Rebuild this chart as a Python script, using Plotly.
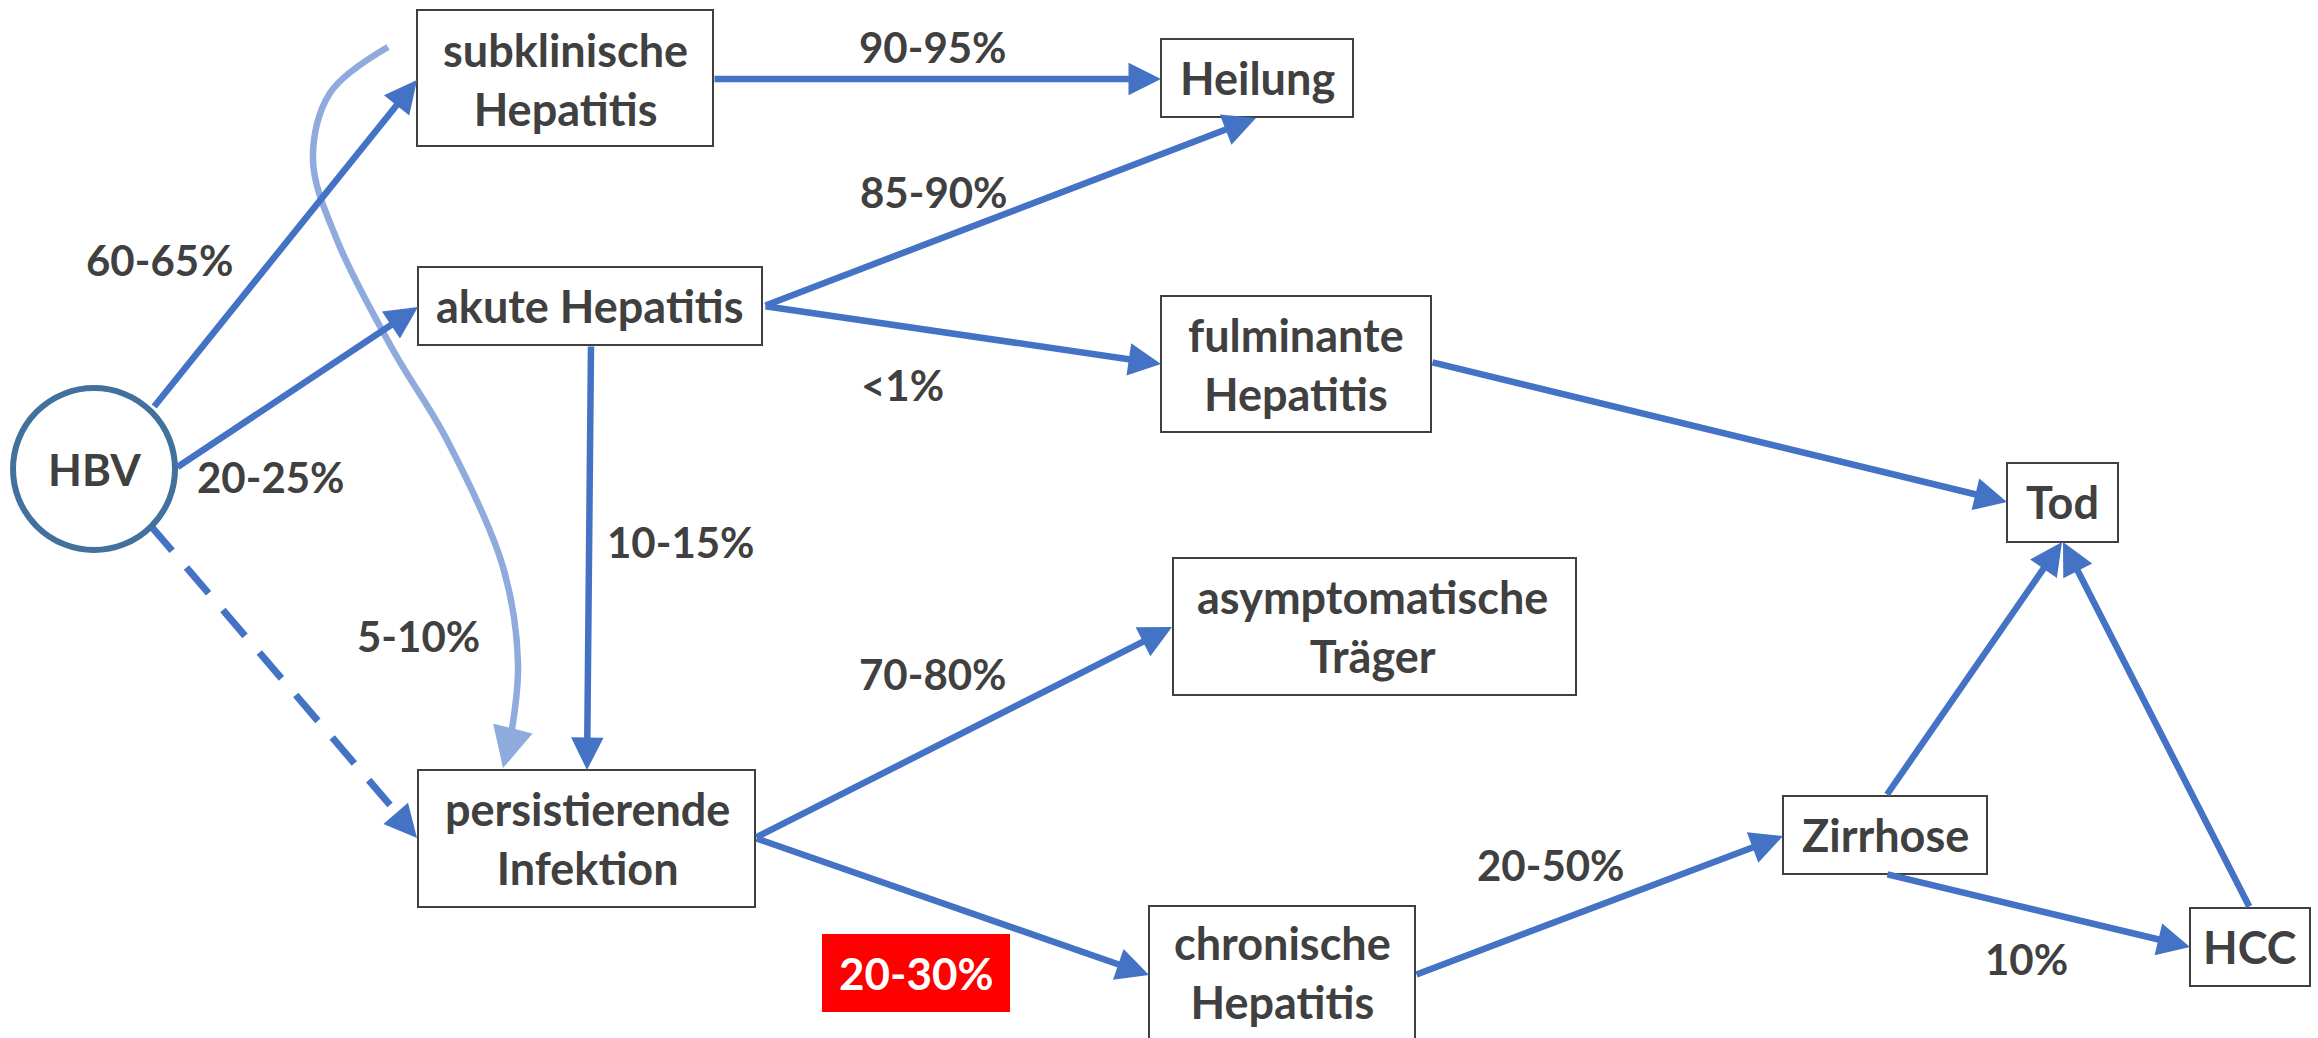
import plotly.graph_objects as go

W, H = 2318, 1038
FONT = "Lato, Carlito, Calibri, sans-serif"
TXT = "#404040"
BLUE = "#4472C4"
LIGHT = "#8FAADC"
CIRC = "#41719C"

# ---- node content ----
node_labels = ["subklinische<br>Hepatitis", "akute Hepatitis", "persistierende<br>Infektion",
               "Heilung", "fulminante<br>Hepatitis", "asymptomatische<br>Träger",
               "chronische<br>Hepatitis", "Tod", "Zirrhose", "HCC"]
# ---- node geometry (pixels) ----
box_x0 = [417, 418, 418, 1161, 1161, 1173, 1149, 2007, 1783, 2190]
box_x1 = [713, 762, 755, 1353, 1431, 1576, 1415, 2118, 1987, 2310]
box_y0 = [10, 267, 770, 39, 296, 558, 906, 463, 796, 908]
box_y1 = [146, 345, 907, 117, 432, 695, 1060, 542, 874, 986]
text_x = [565, 590, 587, 1257, 1296, 1372, 1282, 2062, 1885, 2250]
text_y = [79, 306, 838, 78, 364, 626, 972, 502, 835, 947]

hbv_label = "HBV"
hbv_cx, hbv_cy, hbv_r = 94, 469, 81

# ---- edges ----
edge_tail_x = [153, 176, 713, 764, 764, 1431, 591, 755, 755, 1415, 1886, 2250, 1886]
edge_tail_y = [408, 468, 79, 306, 306, 362, 345, 838, 838, 975, 796, 908, 874]
edge_head_x = [417, 418, 1161, 1256, 1161, 2007, 587, 1172, 1149, 1783, 2062, 2063, 2190]
edge_head_y = [80, 307, 79, 118, 364, 502, 770, 627, 975, 836, 542, 542, 947]

dash_x = [150, 390]
dash_y = [525, 805]
dash_head = (417, 838)

curve_x = [388, 330, 313, 337, 393, 447, 503, 518, 511]
curve_y = [47, 93, 160, 240, 350, 440, 567, 663, 735]
curve_head = (503, 768)

# ---- edge labels ----
edge_labels = ["60-65%", "20-25%", "5-10%", "90-95%", "85-90%", "<1%", "10-15%",
               "70-80%", "20-50%", "10%"]
label_x = [160, 271, 418, 933, 934, 902, 681, 933, 1551, 2026]
label_y = [260, 477, 636, 47, 192, 385, 542, 674, 865, 959]

red_label = "20-30%"
red_box = (822, 1010, 934, 1012)

fig = go.Figure()

# curved light-blue path
fig.add_trace(go.Scatter(x=curve_x, y=curve_y, mode="lines",
                         line=dict(color=LIGHT, width=6.5, shape="spline", smoothing=1.0),
                         hoverinfo="skip", showlegend=False))
# dashed path
fig.add_trace(go.Scatter(x=dash_x, y=dash_y, mode="lines",
                         line=dict(color=BLUE, width=7, dash="34px,22px"),
                         hoverinfo="skip", showlegend=False))

shapes = []
for x0, x1, y0, y1 in zip(box_x0, box_x1, box_y0, box_y1):
    shapes.append(dict(type="rect", xref="x", yref="y", x0=x0, x1=x1, y0=y0, y1=y1,
                       line=dict(color=TXT, width=2), fillcolor="white", layer="above"))
shapes.append(dict(type="circle", xref="x", yref="y",
                   x0=hbv_cx - hbv_r, x1=hbv_cx + hbv_r, y0=hbv_cy - hbv_r, y1=hbv_cy + hbv_r,
                   line=dict(color=CIRC, width=6), fillcolor="white", layer="above"))
shapes.append(dict(type="rect", xref="x", yref="y", x0=red_box[0], x1=red_box[1],
                   y0=red_box[2], y1=red_box[3], line=dict(width=0), fillcolor="#FF0000",
                   layer="above"))

ann = []
for tx, ty, hx, hy in zip(edge_tail_x, edge_tail_y, edge_head_x, edge_head_y):
    ann.append(dict(x=hx, y=hy, ax=tx, ay=ty, xref="x", yref="y", axref="x", ayref="y",
                    text="", showarrow=True, arrowhead=2, arrowsize=1, arrowwidth=6.5,
                    arrowcolor=BLUE, standoff=0))
# dashed arrow head
ann.append(dict(x=dash_head[0], y=dash_head[1], ax=dash_head[0] - 13, ay=dash_head[1] - 15,
                xref="x", yref="y", axref="x", ayref="y", text="", showarrow=True,
                arrowhead=2, arrowsize=1, arrowwidth=6.5, arrowcolor=BLUE, standoff=0))
# curve arrow head
ann.append(dict(x=curve_head[0], y=curve_head[1], ax=curve_head[0] + 5, ay=curve_head[1] - 20,
                xref="x", yref="y", axref="x", ayref="y", text="", showarrow=True,
                arrowhead=2, arrowsize=1.25, arrowwidth=6.5, arrowcolor=LIGHT, standoff=0))

node_font = dict(family=FONT, size=45, color=TXT)
label_font = dict(family=FONT, size=42, color=TXT)
for t, x, y in zip(node_labels, text_x, text_y):
    ann.append(dict(x=x, y=y, xref="x", yref="y", text="<b>%s</b>" % t, showarrow=False,
                    font=node_font, align="center"))
ann.append(dict(x=hbv_cx, y=hbv_cy, xref="x", yref="y", text="<b>%s</b>" % hbv_label,
                showarrow=False, font=dict(family=FONT, size=44, color=TXT)))
for t, x, y in zip(edge_labels, label_x, label_y):
    ann.append(dict(x=x, y=y, xref="x", yref="y", text="<b>%s</b>" % t.replace("<", "&lt;"),
                    showarrow=False, font=label_font))
ann.append(dict(x=(red_box[0] + red_box[1]) / 2, y=(red_box[2] + red_box[3]) / 2,
                xref="x", yref="y", text="<b>%s</b>" % red_label, showarrow=False,
                font=dict(family=FONT, size=44, color="white")))

fig.update_layout(
    width=W, height=H, margin=dict(l=0, r=0, t=0, b=0),
    paper_bgcolor="white", plot_bgcolor="white",
    xaxis=dict(range=[0, W], visible=False, fixedrange=True),
    yaxis=dict(range=[H, 0], visible=False, fixedrange=True),
    shapes=shapes, annotations=ann, showlegend=False,
)
fig.write_html("out.html", config={"displayModeBar": False},
               post_script="document.body.style.margin='0';document.body.style.overflow='hidden';")
